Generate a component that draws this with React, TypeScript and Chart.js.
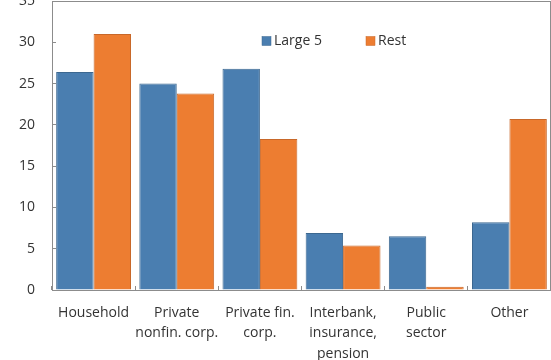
import React, { useEffect, useRef } from "react";
import { Chart, registerables } from "chart.js";

Chart.register(...registerables);

const categories: (string | string[])[] = [
  "Household",
  ["Private", "nonfin. corp."],
  ["Private fin.", "corp."],
  ["Interbank,", "insurance,", "pension"],
  ["Public", "sector"],
  "Other",
];
const large5 = [26.4, 25.0, 26.8, 6.9, 6.5, 8.2];
const rest = [31.0, 23.8, 18.3, 5.4, 0.4, 20.7];
const yMin = 0;
const yMax = 35;
const yStep = 5;

const FONT = "'Open Sans', 'Noto Sans', sans-serif";
const TEXT = "#333333";

const framePlugin = {
  id: "frame",
  afterDraw(chart: any) {
    const { ctx, chartArea } = chart;
    ctx.save();
    ctx.strokeStyle = "#8c8c8c";
    ctx.lineWidth = 1;
    ctx.strokeRect(
      Math.round(chartArea.left) + 0.5,
      Math.round(chartArea.top) + 0.5,
      Math.round(chartArea.right - chartArea.left) - 1,
      Math.round(chartArea.bottom - chartArea.top)
    );
    ctx.restore();
  },
};

const legendPlugin = {
  id: "innerLegend",
  afterDraw(chart: any) {
    const { ctx, chartArea } = chart;
    ctx.save();
    ctx.font = `14px ${FONT}`;
    ctx.textBaseline = "middle";
    const y = chartArea.top + 40;
    let x = chartArea.left + 210;
    chart.data.datasets.forEach((ds: any) => {
      ctx.fillStyle = ds.backgroundColor;
      ctx.fillRect(x, y - 4.5, 9, 9);
      ctx.strokeStyle = ds.borderColor;
      ctx.lineWidth = 0.5;
      ctx.strokeRect(x, y - 4.5, 9, 9);
      ctx.fillStyle = TEXT;
      ctx.fillText(ds.label, x + 12, y);
      x += 104;
    });
    ctx.restore();
  },
};

export default function App() {
  const ref = useRef<HTMLCanvasElement>(null);
  useEffect(() => {
    if (!ref.current) return;
    const chart = new Chart(ref.current, {
      type: "bar",
      data: {
        labels: categories as any,
        datasets: [
          {
            label: "Large 5",
            data: large5,
            backgroundColor: "#4a7eb0",
            borderColor: "#3c6890",
            borderWidth: 1,
          },
          {
            label: "Rest",
            data: rest,
            backgroundColor: "#ed7d31",
            borderColor: "#c8682a",
            borderWidth: 1,
          },
        ],
      },
      options: {
        animation: false,
        responsive: false,
        maintainAspectRatio: false,
        layout: { padding: { left: 0, right: 0, top: 1, bottom: 0 } },
        datasets: { bar: { categoryPercentage: 0.9, barPercentage: 1 } },
        plugins: {
          legend: { display: false },
          tooltip: { enabled: false },
        },
        scales: {
          x: {
            grid: {
              display: true,
              drawOnChartArea: false,
              drawTicks: true,
              tickLength: -4,
              color: "#8c8c8c",
            },
            border: { display: false },
            ticks: {
              color: TEXT,
              font: { family: FONT, size: 14, lineHeight: 1.45 },
              padding: 17,
              maxRotation: 0,
              autoSkip: false,
            },
            afterFit: (scale: any) => {
              scale.height = 70;
            },
          },
          y: {
            min: yMin,
            max: yMax,
            grid: {
              display: true,
              drawOnChartArea: false,
              drawTicks: true,
              tickLength: -4,
              color: "#8c8c8c",
            },
            border: { display: false },
            ticks: {
              stepSize: yStep,
              color: TEXT,
              font: { family: FONT, size: 14 },
              padding: 21,
            },
            afterFit: (scale: any) => {
              scale.width = 52;
              scale.paddingTop = 0;
              scale.paddingBottom = 0;
            },
          },
        },
      },
      plugins: [framePlugin, legendPlugin],
    });
    return () => chart.destroy();
  }, []);
  return (
    <div style={{ position: "absolute", left: 0, top: 0, width: 551, height: 360 }}>
      <canvas ref={ref} width={551} height={360} style={{ width: 551, height: 360, display: "block" }} />
    </div>
  );
}
